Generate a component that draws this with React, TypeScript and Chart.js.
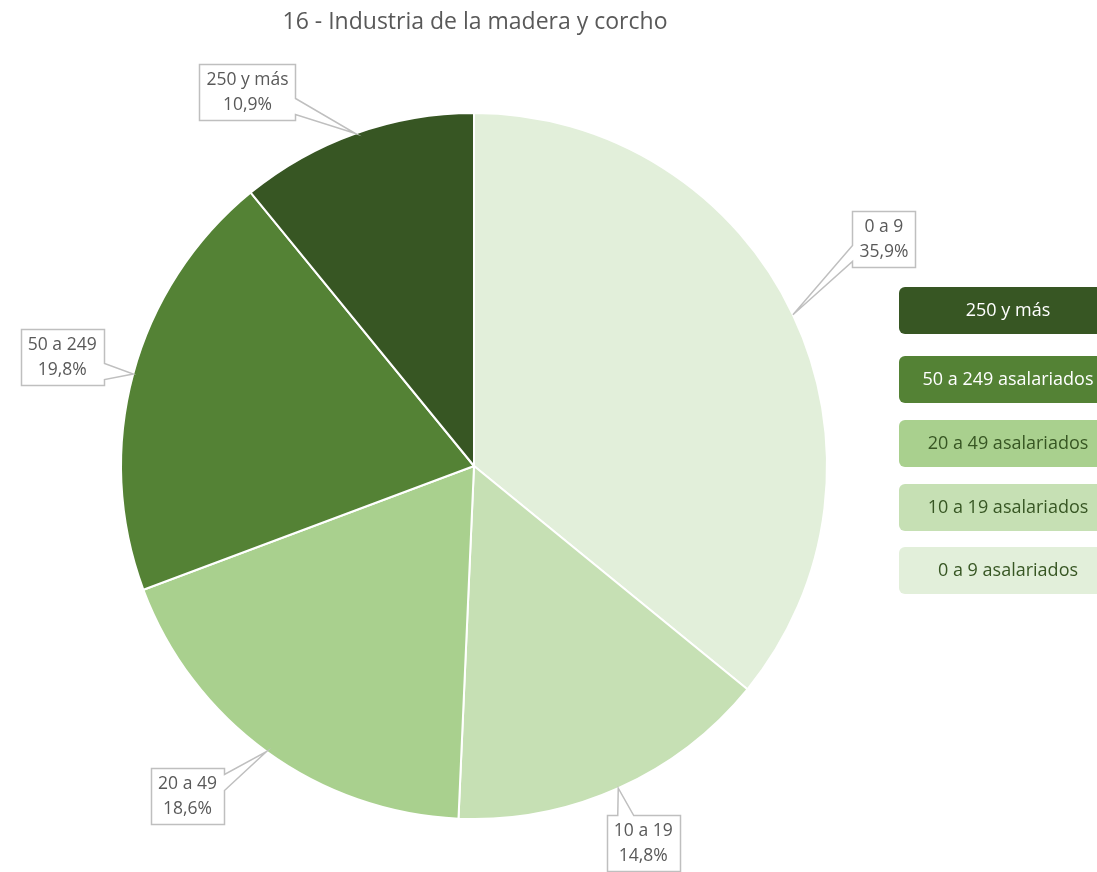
import React, { useEffect, useRef } from "react";
import { Chart, registerables } from "chart.js";

Chart.register(...registerables);

const TITLE = "16 - Industria de la madera y corcho";
const categories = ["0 a 9", "10 a 19", "20 a 49", "50 a 249", "250 y más"];
const legendLabels = [
  "0 a 9 asalariados",
  "10 a 19 asalariados",
  "20 a 49 asalariados",
  "50 a 249 asalariados",
  "250 y más",
];
const values = [35.9, 14.8, 18.6, 19.8, 10.9];

const colors = ["#E2EFDA", "#C6E0B4", "#A9D08E", "#548235", "#375623"];
const legendTextColors = ["#375623", "#375623", "#375623", "#FFFFFF", "#FFFFFF"];
// label box centre offsets relative to the slice anchor point
const labelOffsets = [
  [91, -76],
  [25, 55],
  [-79, 44],
  [-71, -17],
  [-108, -41],
];
// legend box tops (top to bottom: last category first)
const legendTops = [287, 356, 420, 484, 547];

const FONT = "'Open Sans', 'Noto Sans', sans-serif";

const overlayPlugin = {
  id: "overlay",
  afterDraw(chart: any) {
    const ctx: CanvasRenderingContext2D = chart.ctx;
    const meta = chart.getDatasetMeta(0);
    const total = values.reduce((a, b) => a + b, 0);

    // Title
    ctx.save();
    ctx.fillStyle = "#595959";
    ctx.font = `23px ${FONT}`;
    ctx.textAlign = "center";
    ctx.textBaseline = "middle";
    ctx.fillText(TITLE, 475, 22);
    ctx.restore();

    // Data label callouts
    ctx.save();
    ctx.font = `17.5px ${FONT}`;
    meta.data.forEach((arc: any, i: number) => {
      const p = arc.getProps(["x", "y", "startAngle", "endAngle", "outerRadius"], true);
      const mid = (p.startAngle + p.endAngle) / 2;
      const ax = p.x + Math.cos(mid) * p.outerRadius;
      const ay = p.y + Math.sin(mid) * p.outerRadius;
      const l1 = categories[i];
      const l2 = ((values[i] / total) * 100).toFixed(1).replace(".", ",") + "%";
      const tw = Math.max(ctx.measureText(l1).width, ctx.measureText(l2).width);
      const w = Math.round(tw + 14);
      const h = 56;
      const cx = ax + labelOffsets[i][0];
      const cy = ay + labelOffsets[i][1];
      const L = Math.round(cx - w / 2) + 0.5;
      const R = L + w;
      const T = Math.round(cy - h / 2) + 0.5;
      const B = T + h;
      const pts: number[][] = [];
      const half = 8;
      let side = "";
      if (ax >= L && ax <= R) side = ay < T ? "top" : "bottom";
      else side = ax < L ? "left" : "right";
      pts.push([L, T]);
      if (side === "top") {
        const c = Math.min(Math.max(ax, L + w * 0.25), R - w * 0.25);
        pts.push([c - half, T], [ax, ay], [c + half, T]);
      }
      pts.push([R, T]);
      if (side === "right") {
        const c = Math.min(Math.max(ay, T + h * 0.25), B - h * 0.25);
        pts.push([R, c - half], [ax, ay], [R, c + half]);
      }
      pts.push([R, B]);
      if (side === "bottom") {
        const c = Math.min(Math.max(ax, L + w * 0.25), R - w * 0.25);
        pts.push([c + half, B], [ax, ay], [c - half, B]);
      }
      pts.push([L, B]);
      if (side === "left") {
        const c = Math.min(Math.max(ay, T + h * 0.25), B - h * 0.25);
        pts.push([L, c + half], [ax, ay], [L, c - half]);
      }
      ctx.beginPath();
      pts.forEach((pt, k) => (k === 0 ? ctx.moveTo(pt[0], pt[1]) : ctx.lineTo(pt[0], pt[1])));
      ctx.closePath();
      ctx.fillStyle = "#FFFFFF";
      ctx.fill();
      ctx.strokeStyle = "#BFBFBF";
      ctx.lineWidth = 1.5;
      ctx.stroke();
      ctx.fillStyle = "#595959";
      ctx.textAlign = "center";
      ctx.textBaseline = "middle";
      ctx.fillText(l1, cx, cy - 12);
      ctx.fillText(l2, cx, cy + 13);
    });
    ctx.restore();

    // Legend
    ctx.save();
    ctx.font = `18px ${FONT}`;
    const n = categories.length;
    for (let k = 0; k < n; k++) {
      const i = n - 1 - k;
      const x = 899;
      const y = legendTops[k];
      const w = 220;
      const h = 47;
      ctx.beginPath();
      ctx.roundRect(x, y, w, h, 6);
      ctx.fillStyle = colors[i];
      ctx.fill();
      ctx.fillStyle = legendTextColors[i];
      ctx.textAlign = "center";
      ctx.textBaseline = "middle";
      ctx.fillText(legendLabels[i], 1008, y + h / 2);
    }
    ctx.restore();
  },
};

export default function App() {
  const ref = useRef<HTMLCanvasElement | null>(null);
  useEffect(() => {
    if (!ref.current) return;
    const chart = new Chart(ref.current, {
      type: "pie",
      data: {
        labels: legendLabels,
        datasets: [
          {
            data: values,
            backgroundColor: colors,
            borderColor: "#FFFFFF",
            borderWidth: 2,
          },
        ],
      },
      options: {
        responsive: false,
        animation: false,
        layout: { padding: { left: 118, right: 267, top: 112, bottom: 52 } },
        plugins: {
          legend: { display: false },
          title: { display: false },
          tooltip: { enabled: false },
        },
      },
      plugins: [overlayPlugin],
    });
    return () => chart.destroy();
  }, []);
  return (
    <div style={{ position: "absolute", left: 0, top: 0, width: 1097, height: 872, background: "#fff" }}>
      <canvas ref={ref} width={1097} height={872} />
    </div>
  );
}
